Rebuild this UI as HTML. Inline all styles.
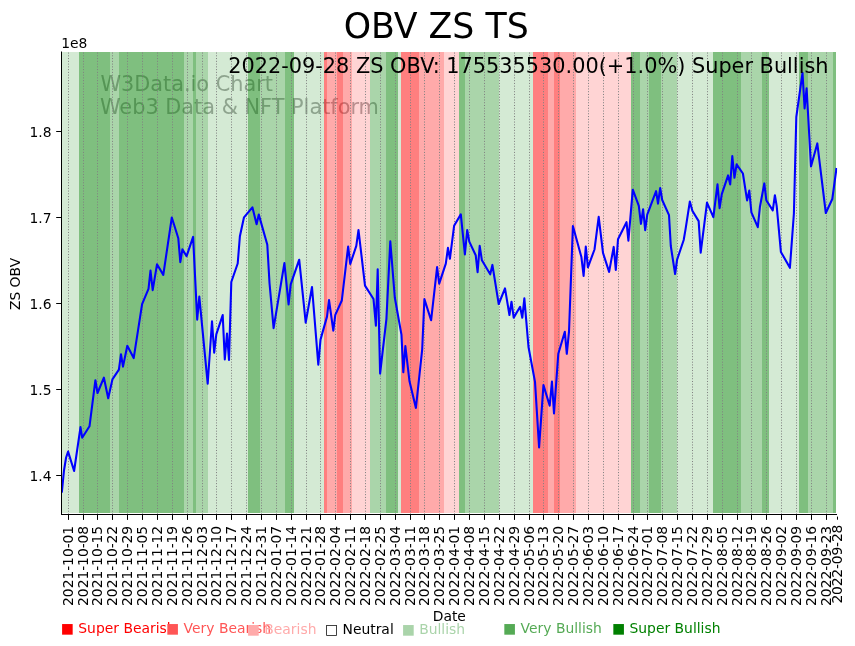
<!DOCTYPE html>
<html><head><meta charset="utf-8"><title>OBV ZS TS</title>
<style>html,body{margin:0;padding:0;background:#fff}body{width:855px;height:646px;overflow:hidden}svg{display:block}text{font-family:'DejaVu Sans','Liberation Sans',sans-serif}</style></head><body>
<svg width="855" height="646" viewBox="0 0 855 646">
<rect width="855" height="646" fill="#fff"/>
<g fill="rgba(128,128,128,0.66)" font-size="20.83px">
<text x="100.4" y="90.6">W3Data.io Chart</text>
<text x="100.0" y="114.1">Web3 Data &amp; NFT Platform</text>
</g>
<g shape-rendering="crispEdges">
<rect x="62" y="52" width="17" height="461" fill="rgba(0,128,0,0.1667)"/>
<rect x="79" y="52" width="31" height="461" fill="rgba(0,128,0,0.5)"/>
<rect x="110" y="52" width="9" height="461" fill="rgba(0,128,0,0.3333)"/>
<rect x="119" y="52" width="65" height="461" fill="rgba(0,128,0,0.5)"/>
<rect x="184" y="52" width="9" height="461" fill="rgba(0,128,0,0.3333)"/>
<rect x="193" y="52" width="3" height="461" fill="rgba(0,128,0,0.5)"/>
<rect x="196" y="52" width="12" height="461" fill="rgba(0,128,0,0.3333)"/>
<rect x="208" y="52" width="40" height="461" fill="rgba(0,128,0,0.1667)"/>
<rect x="248" y="52" width="12" height="461" fill="rgba(0,128,0,0.5)"/>
<rect x="260" y="52" width="25" height="461" fill="rgba(0,128,0,0.3333)"/>
<rect x="285" y="52" width="9" height="461" fill="rgba(0,128,0,0.5)"/>
<rect x="294" y="52" width="30" height="461" fill="rgba(0,128,0,0.1667)"/>
<rect x="324" y="52" width="3" height="461" fill="rgba(255,0,0,0.5)"/>
<rect x="327" y="52" width="10" height="461" fill="rgba(255,0,0,0.3333)"/>
<rect x="337" y="52" width="6" height="461" fill="rgba(255,0,0,0.5)"/>
<rect x="343" y="52" width="9" height="461" fill="rgba(255,0,0,0.3333)"/>
<rect x="352" y="52" width="18" height="461" fill="rgba(255,0,0,0.1667)"/>
<rect x="370" y="52" width="16" height="461" fill="rgba(0,128,0,0.3333)"/>
<rect x="386" y="52" width="12" height="461" fill="rgba(0,128,0,0.5)"/>
<rect x="398" y="52" width="3" height="461" fill="rgba(0,128,0,0.1667)"/>
<rect x="401" y="52" width="18" height="461" fill="rgba(255,0,0,0.5)"/>
<rect x="419" y="52" width="25" height="461" fill="rgba(255,0,0,0.3333)"/>
<rect x="444" y="52" width="15" height="461" fill="rgba(255,0,0,0.1667)"/>
<rect x="459" y="52" width="6" height="461" fill="rgba(0,128,0,0.5)"/>
<rect x="465" y="52" width="34" height="461" fill="rgba(0,128,0,0.3333)"/>
<rect x="499" y="52" width="34" height="461" fill="rgba(0,128,0,0.1667)"/>
<rect x="533" y="52" width="15" height="461" fill="rgba(255,0,0,0.5)"/>
<rect x="548" y="52" width="6" height="461" fill="rgba(255,0,0,0.3333)"/>
<rect x="554" y="52" width="6" height="461" fill="rgba(255,0,0,0.5)"/>
<rect x="560" y="52" width="16" height="461" fill="rgba(255,0,0,0.3333)"/>
<rect x="576" y="52" width="55" height="461" fill="rgba(255,0,0,0.1667)"/>
<rect x="631" y="52" width="9" height="461" fill="rgba(0,128,0,0.5)"/>
<rect x="640" y="52" width="9" height="461" fill="rgba(0,128,0,0.3333)"/>
<rect x="649" y="52" width="12" height="461" fill="rgba(0,128,0,0.5)"/>
<rect x="661" y="52" width="16" height="461" fill="rgba(0,128,0,0.3333)"/>
<rect x="677" y="52" width="36" height="461" fill="rgba(0,128,0,0.1667)"/>
<rect x="713" y="52" width="28" height="461" fill="rgba(0,128,0,0.5)"/>
<rect x="741" y="52" width="21" height="461" fill="rgba(0,128,0,0.3333)"/>
<rect x="762" y="52" width="7" height="461" fill="rgba(0,128,0,0.5)"/>
<rect x="769" y="52" width="30" height="461" fill="rgba(0,128,0,0.1667)"/>
<rect x="799" y="52" width="9" height="461" fill="rgba(0,128,0,0.5)"/>
<rect x="808" y="52" width="25" height="461" fill="rgba(0,128,0,0.3333)"/>
<rect x="833" y="52" width="3" height="461" fill="rgba(0,128,0,0.5)"/>
</g>
<g stroke="#808080" stroke-width="1" stroke-dasharray="1.04 1.72" fill="none">
<path d="M68.5 514.5V52"/>
<path d="M83.5 514.5V52"/>
<path d="M97.5 514.5V52"/>
<path d="M112.5 514.5V52"/>
<path d="M127.5 514.5V52"/>
<path d="M142.5 514.5V52"/>
<path d="M157.5 514.5V52"/>
<path d="M172.5 514.5V52"/>
<path d="M187.5 514.5V52"/>
<path d="M202.5 514.5V52"/>
<path d="M216.5 514.5V52"/>
<path d="M231.5 514.5V52"/>
<path d="M246.5 514.5V52"/>
<path d="M261.5 514.5V52"/>
<path d="M276.5 514.5V52"/>
<path d="M291.5 514.5V52"/>
<path d="M306.5 514.5V52"/>
<path d="M320.5 514.5V52"/>
<path d="M335.5 514.5V52"/>
<path d="M350.5 514.5V52"/>
<path d="M365.5 514.5V52"/>
<path d="M380.5 514.5V52"/>
<path d="M395.5 514.5V52"/>
<path d="M410.5 514.5V52"/>
<path d="M424.5 514.5V52"/>
<path d="M439.5 514.5V52"/>
<path d="M454.5 514.5V52"/>
<path d="M469.5 514.5V52"/>
<path d="M484.5 514.5V52"/>
<path d="M499.5 514.5V52"/>
<path d="M514.5 514.5V52"/>
<path d="M529.5 514.5V52"/>
<path d="M543.5 514.5V52"/>
<path d="M558.5 514.5V52"/>
<path d="M573.5 514.5V52"/>
<path d="M588.5 514.5V52"/>
<path d="M603.5 514.5V52"/>
<path d="M618.5 514.5V52"/>
<path d="M633.5 514.5V52"/>
<path d="M647.5 514.5V52"/>
<path d="M662.5 514.5V52"/>
<path d="M677.5 514.5V52"/>
<path d="M692.5 514.5V52"/>
<path d="M707.5 514.5V52"/>
<path d="M722.5 514.5V52"/>
<path d="M737.5 514.5V52"/>
<path d="M751.5 514.5V52"/>
<path d="M766.5 514.5V52"/>
<path d="M781.5 514.5V52"/>
<path d="M796.5 514.5V52"/>
<path d="M811.5 514.5V52"/>
<path d="M826.5 514.5V52"/>
</g>
<clipPath id="c"><rect x="61.9" y="52" width="775.3" height="462"/></clipPath>
<path d="M61.8 492.6 L64 470.5 L66.1 457.5 L68.1 451.6 L74.1 471 L80.5 427.1 L82.2 437.7 L89.5 426.3 L95.4 380.2 L97.5 393 L103.9 377.7 L108.2 398.3 L112.4 379.4 L118.9 369.7 L121 354.2 L123 366.6 L127.3 345.7 L133.7 358.1 L142.1 304.2 L148.5 288.8 L150.5 270.6 L152.7 290.2 L157 264.3 L163.3 274.9 L171.8 217.5 L178.3 238.3 L180.3 262.1 L182.4 249.4 L186.6 256.2 L193.1 236.9 L197.2 319.6 L199.3 296.6 L207.7 383.7 L212 321.3 L214.2 352.7 L216.3 334.4 L222.7 315.1 L224.8 359.4 L227 333.5 L229 359.9 L231.3 282 L237.7 263.5 L239.9 236.2 L244 217.3 L252.4 207.3 L256.6 224.3 L258.8 214.6 L267.3 244.7 L269.5 283 L273.6 328.1 L284.4 263.1 L288.6 304.4 L290.7 284.4 L299.2 259.7 L305.7 322.6 L312 287 L318.3 364.6 L320.5 339.6 L327 316.6 L329 300 L333.3 330.7 L335.3 314.9 L341.8 300.5 L348.15 246.5 L350.25 264 L356.3 245.9 L358.5 230 L365 285.6 L373.5 299 L375.9 325.6 L377.7 269.3 L380.1 373.6 L386.4 319.1 L390.3 241.3 L394.8 297.5 L401.45 334.6 L403.3 372.3 L405.35 346 L409.45 381 L415.9 408 L422.2 349.3 L424.4 299.1 L431.1 320.3 L437.1 267.1 L439.2 283.6 L445.8 263.7 L447.95 247.9 L449.9 258.8 L454.1 225.8 L460.8 214.4 L464.9 254.4 L467.2 230 L469.3 241.6 L475.7 255.2 L477.6 272.2 L479.7 245.9 L481.9 260.3 L490.2 274.3 L492.4 264.9 L498.7 304 L505 288.4 L509.45 315 L511.5 301.7 L513.7 317.6 L520.1 306.8 L522.3 317.7 L524.35 298.4 L528.5 347 L535 381.9 L539.1 447.4 L543.45 385.1 L549.7 405.7 L551.95 381.5 L554 413.4 L558.3 353.8 L564.8 331.7 L566.8 353.8 L569 331.7 L572.9 226 L581.4 257.1 L583.6 275.9 L585.8 246.6 L587.9 267.3 L594.5 249.5 L598.7 216.8 L603 252.9 L609.1 271.9 L613.7 246.9 L615.8 269.9 L618 239.3 L626.5 222.2 L628.4 240.7 L632.8 189.7 L638.8 205.8 L640.95 223.9 L643.1 209.2 L645.2 230.2 L647.25 214.7 L656.1 191.1 L658 203.7 L660.2 188 L662.2 200 L669 215.2 L670.8 246 L675.1 274 L677.1 259.6 L683.7 240 L685.6 228.9 L689.85 201.5 L692.35 210.8 L698.65 221.1 L700.7 252.6 L707 202.6 L713.35 217.2 L717.5 184.3 L719.6 208.1 L721.8 194.1 L728.1 175.4 L730.2 184.5 L732.3 156 L734.45 177.8 L736.6 164.3 L742.9 173.5 L747.1 200.4 L749.3 190.6 L751.4 212.4 L757.8 227.2 L759.95 206.7 L764.3 183.4 L766.3 200.2 L772.75 210.4 L774.9 195.2 L776.7 206.2 L780.9 251.9 L789.9 267.8 L793.9 213.5 L796.3 117 L802.5 72.8 L804.6 108.4 L806.6 88.3 L811 166.4 L817.3 143.4 L825.8 213 L832.3 199 L836.5 168" fill="none" stroke="#0000ff" stroke-width="2.08" stroke-linejoin="round" stroke-linecap="butt" clip-path="url(#c)"/>
<g stroke="#000" stroke-width="1" fill="none">
<path d="M61.5 51.5V515"/>
<path d="M61 514.5H837"/>
</g>
<g stroke="#000" stroke-width="1" fill="none">
<path d="M68.5 515V519.9"/>
<path d="M83.5 515V519.9"/>
<path d="M97.5 515V519.9"/>
<path d="M112.5 515V519.9"/>
<path d="M127.5 515V519.9"/>
<path d="M142.5 515V519.9"/>
<path d="M157.5 515V519.9"/>
<path d="M172.5 515V519.9"/>
<path d="M187.5 515V519.9"/>
<path d="M202.5 515V519.9"/>
<path d="M216.5 515V519.9"/>
<path d="M231.5 515V519.9"/>
<path d="M246.5 515V519.9"/>
<path d="M261.5 515V519.9"/>
<path d="M276.5 515V519.9"/>
<path d="M291.5 515V519.9"/>
<path d="M306.5 515V519.9"/>
<path d="M320.5 515V519.9"/>
<path d="M335.5 515V519.9"/>
<path d="M350.5 515V519.9"/>
<path d="M365.5 515V519.9"/>
<path d="M380.5 515V519.9"/>
<path d="M395.5 515V519.9"/>
<path d="M410.5 515V519.9"/>
<path d="M424.5 515V519.9"/>
<path d="M439.5 515V519.9"/>
<path d="M454.5 515V519.9"/>
<path d="M469.5 515V519.9"/>
<path d="M484.5 515V519.9"/>
<path d="M499.5 515V519.9"/>
<path d="M514.5 515V519.9"/>
<path d="M529.5 515V519.9"/>
<path d="M543.5 515V519.9"/>
<path d="M558.5 515V519.9"/>
<path d="M573.5 515V519.9"/>
<path d="M588.5 515V519.9"/>
<path d="M603.5 515V519.9"/>
<path d="M618.5 515V519.9"/>
<path d="M633.5 515V519.9"/>
<path d="M647.5 515V519.9"/>
<path d="M662.5 515V519.9"/>
<path d="M677.5 515V519.9"/>
<path d="M692.5 515V519.9"/>
<path d="M707.5 515V519.9"/>
<path d="M722.5 515V519.9"/>
<path d="M737.5 515V519.9"/>
<path d="M751.5 515V519.9"/>
<path d="M766.5 515V519.9"/>
<path d="M781.5 515V519.9"/>
<path d="M796.5 515V519.9"/>
<path d="M811.5 515V519.9"/>
<path d="M826.5 515V519.9"/>
<path d="M837.5 516.6V519.7"/>
<path d="M56.2 131.5H61.5"/>
<path d="M56.2 217.5H61.5"/>
<path d="M56.2 303.5H61.5"/>
<path d="M56.2 389.5H61.5"/>
<path d="M56.2 475.5H61.5"/>
</g>
<g font-size="13.89px" fill="#000">
<text x="51.6" y="136.8" text-anchor="end">1.8</text>
<text x="51.6" y="222.8" text-anchor="end">1.7</text>
<text x="51.6" y="308.8" text-anchor="end">1.6</text>
<text x="51.6" y="394.8" text-anchor="end">1.5</text>
<text x="51.6" y="480.8" text-anchor="end">1.4</text>
<text x="61.2" y="48.2">1e8</text>
<text transform="translate(72.9 605.9) rotate(-90)" textLength="80.1">2021-10-01</text>
<text transform="translate(87.9 605.9) rotate(-90)" textLength="80.1">2021-10-08</text>
<text transform="translate(101.9 605.9) rotate(-90)" textLength="80.1">2021-10-15</text>
<text transform="translate(116.9 605.9) rotate(-90)" textLength="80.1">2021-10-22</text>
<text transform="translate(131.9 605.9) rotate(-90)" textLength="80.1">2021-10-29</text>
<text transform="translate(146.9 605.9) rotate(-90)" textLength="80.1">2021-11-05</text>
<text transform="translate(161.9 605.9) rotate(-90)" textLength="80.1">2021-11-12</text>
<text transform="translate(176.9 605.9) rotate(-90)" textLength="80.1">2021-11-19</text>
<text transform="translate(191.9 605.9) rotate(-90)" textLength="80.1">2021-11-26</text>
<text transform="translate(206.9 605.9) rotate(-90)" textLength="80.1">2021-12-03</text>
<text transform="translate(220.9 605.9) rotate(-90)" textLength="80.1">2021-12-10</text>
<text transform="translate(235.9 605.9) rotate(-90)" textLength="80.1">2021-12-17</text>
<text transform="translate(250.9 605.9) rotate(-90)" textLength="80.1">2021-12-24</text>
<text transform="translate(265.9 605.9) rotate(-90)" textLength="80.1">2021-12-31</text>
<text transform="translate(280.9 605.9) rotate(-90)" textLength="80.1">2022-01-07</text>
<text transform="translate(295.9 605.9) rotate(-90)" textLength="80.1">2022-01-14</text>
<text transform="translate(310.9 605.9) rotate(-90)" textLength="80.1">2022-01-21</text>
<text transform="translate(324.9 605.9) rotate(-90)" textLength="80.1">2022-01-28</text>
<text transform="translate(339.9 605.9) rotate(-90)" textLength="80.1">2022-02-04</text>
<text transform="translate(354.9 605.9) rotate(-90)" textLength="80.1">2022-02-11</text>
<text transform="translate(369.9 605.9) rotate(-90)" textLength="80.1">2022-02-18</text>
<text transform="translate(384.9 605.9) rotate(-90)" textLength="80.1">2022-02-25</text>
<text transform="translate(399.9 605.9) rotate(-90)" textLength="80.1">2022-03-04</text>
<text transform="translate(414.9 605.9) rotate(-90)" textLength="80.1">2022-03-11</text>
<text transform="translate(428.9 605.9) rotate(-90)" textLength="80.1">2022-03-18</text>
<text transform="translate(443.9 605.9) rotate(-90)" textLength="80.1">2022-03-25</text>
<text transform="translate(458.9 605.9) rotate(-90)" textLength="80.1">2022-04-01</text>
<text transform="translate(473.9 605.9) rotate(-90)" textLength="80.1">2022-04-08</text>
<text transform="translate(488.9 605.9) rotate(-90)" textLength="80.1">2022-04-15</text>
<text transform="translate(503.9 605.9) rotate(-90)" textLength="80.1">2022-04-22</text>
<text transform="translate(518.9 605.9) rotate(-90)" textLength="80.1">2022-04-29</text>
<text transform="translate(533.9 605.9) rotate(-90)" textLength="80.1">2022-05-06</text>
<text transform="translate(547.9 605.9) rotate(-90)" textLength="80.1">2022-05-13</text>
<text transform="translate(562.9 605.9) rotate(-90)" textLength="80.1">2022-05-20</text>
<text transform="translate(577.9 605.9) rotate(-90)" textLength="80.1">2022-05-27</text>
<text transform="translate(592.9 605.9) rotate(-90)" textLength="80.1">2022-06-03</text>
<text transform="translate(607.9 605.9) rotate(-90)" textLength="80.1">2022-06-10</text>
<text transform="translate(622.9 605.9) rotate(-90)" textLength="80.1">2022-06-17</text>
<text transform="translate(637.9 605.9) rotate(-90)" textLength="80.1">2022-06-24</text>
<text transform="translate(651.9 605.9) rotate(-90)" textLength="80.1">2022-07-01</text>
<text transform="translate(666.9 605.9) rotate(-90)" textLength="80.1">2022-07-08</text>
<text transform="translate(681.9 605.9) rotate(-90)" textLength="80.1">2022-07-15</text>
<text transform="translate(696.9 605.9) rotate(-90)" textLength="80.1">2022-07-22</text>
<text transform="translate(711.9 605.9) rotate(-90)" textLength="80.1">2022-07-29</text>
<text transform="translate(726.9 605.9) rotate(-90)" textLength="80.1">2022-08-05</text>
<text transform="translate(741.9 605.9) rotate(-90)" textLength="80.1">2022-08-12</text>
<text transform="translate(755.9 605.9) rotate(-90)" textLength="80.1">2022-08-19</text>
<text transform="translate(770.9 605.9) rotate(-90)" textLength="80.1">2022-08-26</text>
<text transform="translate(785.9 605.9) rotate(-90)" textLength="80.1">2022-09-02</text>
<text transform="translate(800.9 605.9) rotate(-90)" textLength="80.1">2022-09-09</text>
<text transform="translate(815.9 605.9) rotate(-90)" textLength="80.1">2022-09-16</text>
<text transform="translate(830.9 605.9) rotate(-90)" textLength="80.1">2022-09-23</text>
<text transform="translate(842.3 603.6) rotate(-90)" textLength="79">2022-09-28</text>
<text x="449.3" y="620.7" text-anchor="middle">Date</text>
<text transform="translate(20.4 284) rotate(-90)" text-anchor="middle">ZS OBV</text>
<text x="60.8" y="632.9" fill="#ff0000">■ Super Bearish</text>
<text x="166.1" y="632.9" fill="#ff5555">■ Very Bearish</text>
<text x="246.8" y="633.9" fill="#ffaaaa">■ Bearish</text>
<text x="325" y="633.9" fill="#000000">□ Neutral</text>
<text x="401.7" y="633.9" fill="#aad4aa">■ Bullish</text>
<text x="503.1" y="632.9" fill="#55aa55">■ Very Bullish</text>
<text x="612" y="632.9" fill="#008000">■ Super Bullish</text>
</g>
<text x="436.2" y="38.1" font-size="35.5px" text-anchor="middle" textLength="185" lengthAdjust="spacingAndGlyphs">OBV ZS TS</text>
<text x="828.5" y="72.6" font-size="20.83px" text-anchor="end">2022-09-28 ZS OBV: 175535530.00(+1.0%) Super Bullish</text>
</svg></body></html>
